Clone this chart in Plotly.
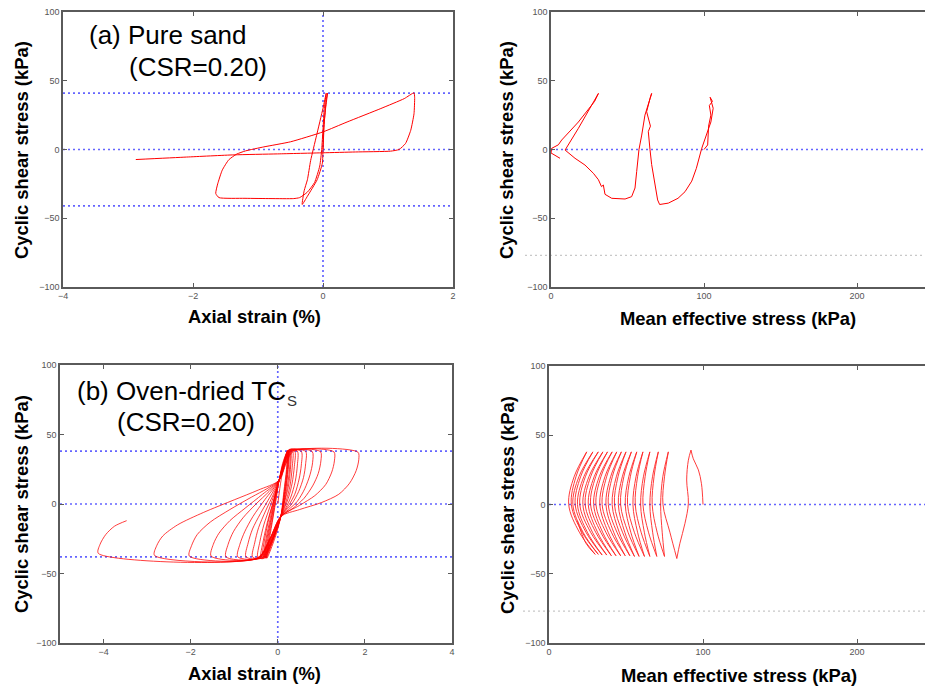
import plotly.graph_objects as go

W, H = 925, 689

# ---------------- data ----------------
# (a) pure sand: axial strain (%) vs cyclic shear stress (kPa)
sand_strain = [0.0, 0.01, 0.04, 0.07,
               0.05, 0.02, 0.0, -0.01, -0.09, -0.24, -0.32,
               -0.29, -0.24, -0.19, -0.10, 0.0, 0.05,
               0.02, 0.0, -0.02, -0.05, -0.13, -0.24, -0.36, -0.45,
               -0.8, -1.2, -1.6,
               -1.65, -1.62, -1.55, -1.45, -1.33, -1.19,
               -0.91, -0.5, 0.0, 0.37, 0.89, 1.25, 1.40,
               1.41, 1.40, 1.35, 1.27, 1.17, 1.04,
               0.5, 0.0, -0.7, -1.37, -2.1, -2.88]
sand_stress = [0, 15, 30, 41,
               36, 20, 0, -10, -22, -34, -40,
               -30, -22, -8, 10, 30, 41,
               30, 15, 0, -12, -24, -31, -35, -35.7,
               -35.7, -35.5, -35,
               -32, -25, -15, -7.5, -3.4, -1,
               1.9, 5.6, 12.8, 20, 29.8, 37, 41.2,
               38, 26, 14, 4.4, 0, -1.2,
               -1.8, -2.4, -3.2, -3.9, -5.5, -7.3]

# (a) pure sand: mean effective stress (kPa) vs cyclic shear stress (kPa)
sand_p = [100, 102.4, 103, 104.5, 103.5, 105.5, 104, 106, 104.5, 101, 98.5,
          95, 92, 87.6, 83, 76.7, 71,
          69.7, 68, 65.8, 64.7, 63.6, 65, 62.5, 64.7, 65.8,
          61.4, 59.3, 57.5, 56, 54.9, 52.7, 48.4, 39.7, 35.3, 34.2, 33, 31,
          27.7, 22.2, 15.7, 9.2,
          17.9, 31,
          28.5, 17.9, 7, 4.8, 0.4, 0, 5.9]
sand_q = [0, 3.3, 17, 25, 32, 35, 38, 30, 20, 8, 0.8,
          -13.7, -23, -30.7, -35.5, -39, -40,
          -36.7, -26, -11, 0, 13, 17, 27.5, 37, 40.8,
          25, 10.5, 0, -16, -28, -34.3, -36, -35.5, -32.6, -25.8, -27, -22,
          -17.3, -11.3, -6.4, -0.4,
          15.4, 40.8,
          35, 20, 6.9, 3.4, 0.8, -2.5, -6.4]

# (b) oven-dried TCs: axial strain (%) vs cyclic shear stress (kPa), cycle by cycle
tcs_strain = [0.0, 0.08, 0.22,
              0.20, 0.14, 0.07, -0.06, -0.25,
              -0.19, -0.11, -0.03, 0.03, 0.23,
              0.21, 0.15, 0.07, -0.08, -0.27,
              -0.21, -0.12, -0.04, 0.03, 0.24,
              0.22, 0.16, 0.07, -0.09, -0.29,
              -0.23, -0.14, -0.05, 0.03, 0.25,
              0.23, 0.17, 0.07, -0.10, -0.31,
              -0.25, -0.15, -0.06, 0.03, 0.26,
              0.24, 0.18, 0.07, -0.11, -0.33,
              -0.27, -0.17, -0.07, 0.03, 0.28,
              0.27, 0.20, 0.07, -0.12, -0.36,
              -0.30, -0.20, -0.08, 0.03, 0.13, 0.30,
              0.29, 0.24, 0.16, 0.07, -0.10, -0.31, -0.39,
              -0.33, -0.23, -0.10, 0.03, 0.11, 0.24, 0.34,
              0.33, 0.28, 0.20, 0.07, -0.12, -0.34, -0.46,
              -0.41, -0.32, -0.18, 0.03, 0.12, 0.25, 0.39,
              0.38, 0.33, 0.24, 0.07, -0.13, -0.37, -0.58,
              -0.53, -0.44, -0.28, -0.10, 0.03, 0.13, 0.26, 0.45,
              0.45, 0.40, 0.30, 0.18, 0.07, -0.14, -0.40, -0.73,
              -0.68, -0.58, -0.40, -0.18, 0.03, 0.14, 0.27, 0.54,
              0.54, 0.49, 0.39, 0.25, 0.07, -0.15, -0.42, -0.92,
              -0.87, -0.76, -0.57, -0.30, 0.03, 0.15, 0.28, 0.64,
              0.64, 0.59, 0.48, 0.32, 0.07, -0.16, -0.44, -1.19,
              -1.14, -1.02, -0.80, -0.50, -0.20, 0.03, 0.16, 0.30, 0.79,
              0.80, 0.74, 0.62, 0.45, 0.25, 0.07, -0.17, -0.45, -1.53,
              -1.48, -1.35, -1.10, -0.75, -0.35, 0.03, 0.17, 0.32, 0.98,
              0.99, 0.93, 0.80, 0.60, 0.35, 0.07, -0.18, -0.46, -2.03,
              -1.98, -1.85, -1.55, -1.10, -0.60, -0.25, 0.03, 0.18, 0.34, 1.29,
              1.30, 1.24, 1.10, 0.85, 0.50, 0.07, -0.18, -0.46, -2.83,
              -2.78, -2.64, -2.30, -1.70, -1.00, -0.45, 0.03, 0.19, 0.36, 1.84,
              1.86, 1.80, 1.65, 1.40, 1.00, 0.50, 0.07, -0.18, -0.46, -4.12,
              -4.08, -3.95, -3.75, -3.47]
tcs_stress = [0, 18, 38.5,
              25, 9, -9, -24, -39,
              -25, -10, 5, 17, 38.5,
              25, 9, -9, -24, -39,
              -25, -10, 5, 17, 38.5,
              25, 9, -9, -24, -39,
              -25, -10, 5, 17, 38.5,
              25, 9, -9, -24, -39,
              -25, -10, 5, 17, 38.5,
              25, 9, -9, -24, -39,
              -25, -10, 5, 17, 38.5,
              25, 9, -9, -25, -39,
              -25, -10, 4, 17, 29, 38.5,
              25, 12, 2, -9, -25, -39, -39,
              -26, -12, 2, 17, 29, 38.5, 38.2,
              26, 13, 3, -9, -25, -39, -38.5,
              -27, -15, -2, 17, 29, 38.8, 38,
              27, 15, 4, -9, -25, -39, -38.2,
              -28, -17, -5, 7, 17, 29, 39, 38,
              28, 16, 5, -3, -9, -25, -39, -38,
              -28, -18, -7, 5, 17, 29, 39.3, 37.8,
              28, 18, 7, -1, -9, -25, -39, -38,
              -29, -20, -9, 3, 17, 29, 39, 37.8,
              29, 19, 9, 0, -9, -25, -39, -38,
              -29, -20, -10, 0, 9, 17, 29, 38.6, 37.8,
              30, 21, 11, 2, -4, -9, -25, -39, -37.5,
              -29, -21, -12, -3, 7, 17, 29, 38.4, 37.7,
              31, 22, 13, 4, -3, -9, -25, -39, -37.5,
              -30, -22, -13, -4, 5, 11, 17, 29, 38.2, 37.5,
              31, 23, 14, 6, -1, -9, -25, -38.8, -37,
              -30, -23, -15, -6, 3, 10, 17, 29, 38, 37.3,
              32, 24, 15, 7, 1, -4, -9, -25, -38.5, -35.5,
              -29, -22, -16, -12]

# (b) oven-dried TCs: mean effective stress (kPa) vs cyclic shear stress (kPa)
tcs_p = [100, 99, 97, 93.7, 92.2,
         90.5, 89.4, 90.5, 88.3, 85, 83,
         78.5, 74, 75, 77.5,
         73.9, 72.5, 73.5, 75,
         70.2, 67, 68.2, 71,
         67.2, 65.5, 67.3, 70,
         64.6, 61, 62.4, 65.5,
         61.3, 59.5, 61.9, 65.5,
         59.8, 56, 57.5, 61,
         56.5, 54.5, 57.5, 62,
         55.4, 51, 52.8, 57,
         51.8, 49.5, 53.1, 58.5,
         51.3, 46.5, 48.6, 53.5,
         47.6, 45, 49.2, 55.5,
         47.7, 42.5, 44.8, 50,
         43.7, 41, 45.6, 52.5,
         44.1, 38.5, 41.1, 47,
         40, 37, 42, 49.5,
         40.5, 34.5, 37.4, 44,
         36.3, 33, 38.4, 46.5,
         36.9, 30.5, 33.7, 41,
         32.6, 29, 34.8, 43.5,
         33.6, 27, 30.3, 38,
         29.3, 25.5, 31.5, 40.5,
         30.3, 23.5, 27, 35,
         25.9, 22, 28.2, 37.5,
         27, 20, 23.6, 32,
         22.6, 18.5, 24.9, 34.5,
         24, 17, 20.5, 28.5,
         19.4, 15.5, 22.1, 32,
         21.5, 14.5, 17.5, 24.5,
         16.3, 12.8, 19.7, 30,
         24, 18.5]
tcs_q = [0, 15, 25, 33, 39.3,
         32, 17.7, 1, -13.6, -28, -39,
         -20, 0, 20, 38,
         20, 0, -20, -37.5,
         -20, 0, 20, 38,
         20, 0, -20, -37.5,
         -20, 0, 20, 38,
         20, 0, -20, -37.5,
         -20, 0, 20, 38,
         20, 0, -20, -37.5,
         -20, 0, 20, 38,
         20, 0, -20, -37.5,
         -20, 0, 20, 38,
         20, 0, -20, -37.5,
         -20, 0, 20, 38,
         20, 0, -20, -37,
         -20, 0, 20, 38,
         20, 0, -20, -37,
         -20, 0, 20, 38,
         20, 0, -20, -37,
         -20, 0, 20, 38,
         20, 0, -20, -37,
         -20, 0, 20, 38,
         20, 0, -20, -37,
         -20, 0, 20, 38,
         20, 0, -20, -36.5,
         -20, 0, 20, 38,
         20, 0, -20, -36.5,
         -20, 0, 20, 38,
         20, 0, -20, -36,
         -20, 0, 20, 38,
         20, 0, -20, -36,
         -28, -12]

# reference levels
sand_csr_level = 41
tcs_csr_level = 38
gray_level = -77

stress_ticks = [-100, -50, 0, 50, 100]
stress_ticktext = ["\u2212100", "\u221250", "0", "50", "100"]
sand_strain_ticks = [-4, -2, 0, 2]
sand_strain_ticktext = ["\u22124", "\u22122", "0", "2"]
tcs_strain_ticks = [-4, -2, 0, 2, 4]
tcs_strain_ticktext = ["\u22124", "\u22122", "0", "2", "4"]
p_ticks = [0, 100, 200]


# ---------------- helpers ----------------
def split_at_turns(xs, ys):
    """Break a path at its shear-stress reversals so each half cycle is its own spline."""
    ox, oy = [xs[0]], [ys[0]]
    for i in range(1, len(xs)):
        ox.append(xs[i]); oy.append(ys[i])
        if 0 < i < len(xs) - 1 and (ys[i] - ys[i - 1]) * (ys[i + 1] - ys[i]) < 0:
            ox += [None, xs[i]]; oy += [None, ys[i]]
    return ox, oy


def fx(px):
    return px / W


def fy(py):
    return 1 - py / H


RED = "rgb(255,0,0)"
FRAME = "#5a5a5a"
FONT = "Arial, Liberation Sans, sans-serif"

fig = go.Figure()

fig.add_trace(go.Scatter(x=sand_strain, y=sand_stress, mode="lines",
                         line=dict(color=RED, width=1, shape="spline", smoothing=0.5),
                         xaxis="x", yaxis="y", showlegend=False, hoverinfo="skip"))
fig.add_trace(go.Scatter(x=sand_p, y=sand_q, mode="lines",
                         line=dict(color=RED, width=1),
                         xaxis="x2", yaxis="y2", showlegend=False, hoverinfo="skip"))
fig.add_trace(go.Scatter(x=tcs_strain, y=tcs_stress, mode="lines",
                         line=dict(color=RED, width=0.9, shape="spline", smoothing=0.8),
                         opacity=0.85,
                         xaxis="x3", yaxis="y3", showlegend=False, hoverinfo="skip"))
bx, by = split_at_turns(tcs_p, tcs_q)
fig.add_trace(go.Scatter(x=bx, y=by, mode="lines", connectgaps=False,
                         line=dict(color=RED, width=0.9, shape="spline", smoothing=1.0),
                         opacity=0.85,
                         xaxis="x4", yaxis="y4", showlegend=False, hoverinfo="skip"))


def axis(domain, rng, tickvals, ticktext=None, mirror=True):
    d = dict(domain=domain, range=rng, showline=True, linecolor=FRAME, linewidth=1.6,
             mirror="ticks" if mirror else False, ticks="inside", ticklen=4,
             tickcolor=FRAME, tickwidth=1, showgrid=False, zeroline=False,
             tickvals=tickvals, tickfont=dict(family=FONT, size=9, color="#555555"),
             fixedrange=True, automargin=False)
    if ticktext is not None:
        d["ticktext"] = ticktext
    return d


dom_tl_x = [fx(63), fx(453)]
dom_t_y = [fy(287), fy(12)]
dom_tr_x = [fx(551), 1.0]
dom_bl_x = [fx(60), fx(452)]
dom_bl_y = [fy(643), fy(365)]
dom_br_x = [fx(549), 1.0]
dom_br_y = [fy(643), fy(366)]

p_max_top = (W - 551) / 1.53
p_max_bot = (W - 549) / 1.54

fig.update_layout(
    width=W, height=H, margin=dict(l=0, r=0, t=0, b=0, autoexpand=False),
    paper_bgcolor="white", plot_bgcolor="white",
    xaxis=dict(axis(dom_tl_x, [-4, 2], sand_strain_ticks, sand_strain_ticktext), anchor="y"),
    yaxis=dict(axis(dom_t_y, [-100, 100], stress_ticks, stress_ticktext), anchor="x"),
    xaxis2=dict(axis(dom_tr_x, [0, p_max_top], p_ticks), anchor="y2"),
    yaxis2=dict(axis(dom_t_y, [-100, 100], stress_ticks, stress_ticktext, mirror=False), anchor="x2"),
    xaxis3=dict(axis(dom_bl_x, [-5, 4], tcs_strain_ticks, tcs_strain_ticktext), anchor="y3"),
    yaxis3=dict(axis(dom_bl_y, [-100, 100], stress_ticks, stress_ticktext), anchor="x3"),
    xaxis4=dict(axis(dom_br_x, [0, p_max_bot], p_ticks), anchor="y4"),
    yaxis4=dict(axis(dom_br_y, [-100, 100], stress_ticks, stress_ticktext, mirror=False), anchor="x4"),
)

BLUE = dict(color="rgb(100,100,255)", width=1.7, dash="2px,3px")
GRAY = dict(color="rgb(200,200,200)", width=1.4, dash="2px,3px")
shapes = []
for lv in (sand_csr_level, 0, -sand_csr_level):
    shapes.append(dict(type="line", xref="x", yref="y", x0=-4, x1=2, y0=lv, y1=lv, line=BLUE, layer="below"))
shapes.append(dict(type="line", xref="x", yref="y", x0=0, x1=0, y0=-100, y1=100, line=BLUE, layer="below"))
for lv in (tcs_csr_level, 0, -tcs_csr_level):
    shapes.append(dict(type="line", xref="x3", yref="y3", x0=-5, x1=4, y0=lv, y1=lv, line=BLUE, layer="below"))
shapes.append(dict(type="line", xref="x3", yref="y3", x0=0, x1=0, y0=-100, y1=100, line=BLUE, layer="below"))
shapes.append(dict(type="line", xref="x2", yref="y2", x0=0, x1=p_max_top, y0=0, y1=0, line=BLUE, layer="below"))
shapes.append(dict(type="line", xref="x4", yref="y4", x0=0, x1=p_max_bot, y0=0, y1=0, line=BLUE, layer="below"))
shapes.append(dict(type="line", xref="paper", yref="y2", x0=fx(525), x1=1, y0=gray_level, y1=gray_level, line=GRAY, layer="below"))
shapes.append(dict(type="line", xref="paper", yref="y4", x0=fx(523), x1=1, y0=gray_level, y1=gray_level, line=GRAY, layer="below"))
fig.update_layout(shapes=shapes)

ann = []


def label(text, x, y, size=18.4, angle=0, xanchor="center", bold=True, color="black"):
    ann.append(dict(text=f"<b>{text}</b>" if bold else text, x=fx(x), y=fy(y), xref="paper", yref="paper",
                    showarrow=False, textangle=angle, xanchor=xanchor, yanchor="middle",
                    font=dict(family=FONT, size=size, color=color)))


label("Cyclic shear stress (kPa)", 22, 150, angle=-90)
label("Axial strain (%)", 254, 317)
label("Cyclic shear stress (kPa)", 507, 150, angle=-90)
label("Mean effective stress (kPa)", 738, 318)
label("Cyclic shear stress (kPa)", 21, 504, angle=-90)
label("Axial strain (%)", 254, 673)
label("Cyclic shear stress (kPa)", 507, 505, angle=-90)
label("Mean effective stress (kPa)", 739, 675)
label("(a) Pure sand", 87, 35, size=26, xanchor="left", bold=False)
label("(CSR=0.20)", 127, 67, size=26, xanchor="left", bold=False)
label("(b) Oven-dried TC", 75, 391, size=26, xanchor="left", bold=False)
label("S", 285, 400, size=15, xanchor="left", bold=False, color="#333333")
label("(CSR=0.20)", 115, 422, size=26, xanchor="left", bold=False)
fig.update_layout(annotations=ann)

fig.write_html("out.html", config={"displayModeBar": False, "staticPlot": True},
               post_script="document.documentElement.style.margin='0';"
                           "document.body.style.margin='0';document.body.style.overflow='hidden';")
